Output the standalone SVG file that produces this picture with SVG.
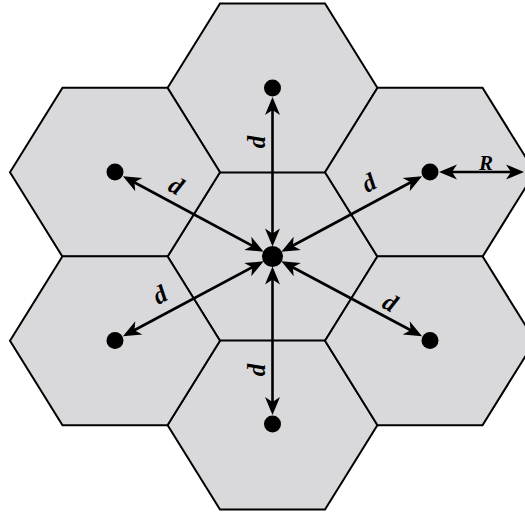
<svg xmlns="http://www.w3.org/2000/svg" xmlns:xlink="http://www.w3.org/1999/xlink" width="525" height="512" viewBox="0 0 525 512">
  <style>
    .hex { fill: #d9d9dc; stroke: #000; stroke-width: 2; stroke-linejoin: miter; }
    .dot { fill: #000; }
    .conn { stroke: #000; stroke-width: 2.6; fill: none; marker-start: url(#ah); marker-end: url(#ah); }
    .lbl { font-family: "Liberation Serif", "DejaVu Serif", serif; font-style: italic; font-weight: bold; font-size: 25px; fill: #000; text-anchor: middle; }
    text.lblR { font-size: 21px; }
  </style>
  <defs>
    <polygon id="hexshape" points="-105,0 -52.5,-84.5 52.5,-84.5 105,0 52.5,84.5 -52.5,84.5"/>
    <marker id="ah" viewBox="-11 -9 20 18" refX="0" refY="0" markerWidth="20" markerHeight="18" markerUnits="userSpaceOnUse" orient="auto-start-reverse">
      <path d="M8,0 L-10,-7.5 L-5,0 L-10,7.5 Z" fill="#000"/>
    </marker>
  </defs>
  <rect width="525" height="512" fill="#fff"/>

  <g id="cell-center">
    <use href="#hexshape" class="hex" x="272.5" y="256.5"/>
    <circle class="dot" cx="272.5" cy="256.5" r="10.5"/>
  </g>
  <g id="cell-top">
    <use href="#hexshape" class="hex" x="272.5" y="88"/>
    <circle class="dot" cx="272.5" cy="88" r="8.5"/>
  </g>
  <g id="cell-bottom">
    <use href="#hexshape" class="hex" x="272.5" y="425"/>
    <circle class="dot" cx="272.5" cy="424" r="8.5"/>
  </g>
  <g id="cell-upper-left">
    <use href="#hexshape" class="hex" x="115" y="172.25"/>
    <circle class="dot" cx="115" cy="172" r="8.5"/>
  </g>
  <g id="cell-upper-right">
    <use href="#hexshape" class="hex" x="430" y="172.25"/>
    <circle class="dot" cx="430" cy="172" r="8.5"/>
  </g>
  <g id="cell-lower-left">
    <use href="#hexshape" class="hex" x="115" y="340.75"/>
    <circle class="dot" cx="115" cy="340.5" r="8.5"/>
  </g>
  <g id="cell-lower-right">
    <use href="#hexshape" class="hex" x="430" y="340.75"/>
    <circle class="dot" cx="430" cy="340.5" r="8.5"/>
  </g>

  <g id="connectors">
    <line class="conn" x1="272.5" y1="238.5" x2="272.5" y2="105"/>
    <line class="conn" x1="272.5" y1="274.5" x2="272.5" y2="407"/>
    <line class="conn" x1="256.6" y1="248" x2="130" y2="180"/>
    <line class="conn" x1="288.4" y1="248" x2="415" y2="180"/>
    <line class="conn" x1="256.6" y1="265" x2="130" y2="332.5"/>
    <line class="conn" x1="288.4" y1="265" x2="415" y2="332.5"/>
    <line class="conn" x1="447" y1="172" x2="516" y2="172"/>
  </g>

  <g id="labels">
    <text class="lbl" transform="translate(257,142) rotate(-90)" x="0" y="8">d</text>
    <text class="lbl" transform="translate(257,370) rotate(-90)" x="0" y="8">d</text>
    <text class="lbl" transform="translate(176,186) rotate(28.2)" x="0" y="8">d</text>
    <text class="lbl" transform="translate(369,183) rotate(-28.2)" x="0" y="8">d</text>
    <text class="lbl" transform="translate(160,295) rotate(-28.2)" x="0" y="8">d</text>
    <text class="lbl" transform="translate(390,303) rotate(28.2)" x="0" y="8">d</text>
    <text class="lbl lblR" x="486" y="170">R</text>
  </g>
</svg>
